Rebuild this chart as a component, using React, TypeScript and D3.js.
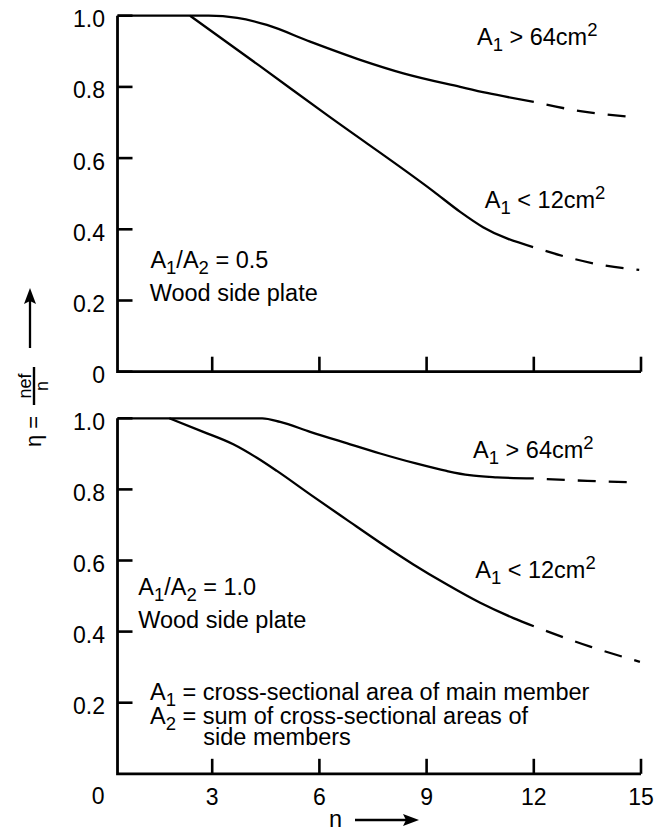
import React, { useEffect, useRef } from "react";
import * as d3 from "d3";

// Efficiency of dowel groups, eta = n_ef / n, against number of fasteners n

// Upper panel, A1/A2 = 0.5
const topLargeN = [0.35, 2.9, 3.7, 4.53, 5.74, 7.14, 8.35, 9.94, 10.69, 12];
const topLargeEta = [1.0, 1.0, 0.994, 0.974, 0.927, 0.876, 0.838, 0.8, 0.783, 0.758];
const topLargeDashN = [12, 13.3, 14.8];
const topLargeDashEta = [0.758, 0.732, 0.715];
const topSmallN = [2.38, 4.3, 6.2, 9.2, 9.94, 10.58, 11.98];
const topSmallEta = [1.0, 0.861, 0.722, 0.506, 0.449, 0.406, 0.35];
const topSmallDashN = [11.98, 13, 14, 14.95];
const topSmallDashEta = [0.35, 0.32, 0.298, 0.286];

// Lower panel, A1/A2 = 1.0
const botLargeN = [0.35, 4.4, 4.9, 5.74, 6.76, 7.7, 8.7, 9.56, 10.2, 10.97, 12];
const botLargeEta = [1.0, 1.0, 0.99, 0.962, 0.93, 0.901, 0.873, 0.852, 0.84, 0.834, 0.831];
const botLargeDashN = [12, 13.5, 14.83];
const botLargeDashEta = [0.831, 0.824, 0.82];
const botSmallN = [1.8, 2.75, 3.59, 4.25, 4.81, 5.74, 6.76, 7.7, 8.63, 9.56, 10.5, 11.43, 12];
const botSmallEta = [1.0, 0.962, 0.927, 0.889, 0.852, 0.786, 0.715, 0.65, 0.589, 0.533, 0.481, 0.438, 0.415];
const botSmallDashN = [12, 13.6, 14.97];
const botSmallDashEta = [0.415, 0.357, 0.315];

// Ticks
const xTicks = [3, 6, 9, 12, 15];
const topYTicks = [0, 0.2, 0.4, 0.6, 0.8, 1.0];
const botYTicks = [0.2, 0.4, 0.6, 0.8, 1.0];
const originLabel = "0";

// Text: [text, "" | "sub" | "sup"]
type Part = [string, string];
const largeLabel: Part[] = [["A", ""], ["1", "sub"], [" > 64cm", ""], ["2", "sup"]];
const smallLabel: Part[] = [["A", ""], ["1", "sub"], [" < 12cm", ""], ["2", "sup"]];
const ratioTop: Part[] = [["A", ""], ["1", "sub"], ["/A", ""], ["2", "sub"], [" = 0.5", ""]];
const ratioBot: Part[] = [["A", ""], ["1", "sub"], ["/A", ""], ["2", "sub"], [" = 1.0", ""]];
const plateLabel: Part[] = [["Wood side plate", ""]];
const legend1: Part[] = [["A", ""], ["1", "sub"], [" = cross-sectional area of main member", ""]];
const legend2: Part[] = [["A", ""], ["2", "sub"], [" = sum of cross-sectional areas of", ""]];
const legend3: Part[] = [["side members", ""]];

const FONT = "'Liberation Sans', Arial, Helvetica, sans-serif";
const FS = 23.5;
const W = 663,
  H = 831;

export default function App() {
  const ref = useRef<SVGSVGElement>(null);

  useEffect(() => {
    const svg = d3.select(ref.current);
    svg.selectAll("*").remove();

    const x = d3.scaleLinear().domain([0, 15]).range([105, 641]);
    const yTop = d3.scaleLinear().domain([0, 1]).range([371.7, 15.7]);
    const yBot = d3.scaleLinear().domain([0, 1]).range([773.8, 418.3]);
    const nOrigin = 0.35; // where the vertical axis sits

    const g = svg
      .append("g")
      .attr("font-family", FONT)
      .attr("font-size", FS)
      .style("white-space", "pre");

    const rich = (px: number, py: number, parts: Part[]) => {
      const t = g.append("text").attr("x", px).attr("y", py).attr("fill", "#000");
      let shift = 0;
      parts.forEach(([s, kind]) => {
        const target = kind === "sub" ? 6 : kind === "sup" ? -9 : 0;
        t.append("tspan")
          .attr("dy", target - shift)
          .attr("font-size", kind ? 18.5 : FS)
          .text(s);
        shift = target;
      });
    };

    const drawPanel = (
      y: d3.ScaleLinear<number, number>,
      yTicks: number[],
      showXLabels: boolean,
      series: { n: number[]; eta: number[]; dashed: boolean }[]
    ) => {
      // x axis ticks (inward)
      const xa = g
        .append("g")
        .attr("transform", `translate(0,${y(0)})`)
        .call(
          d3
            .axisBottom(x)
            .tickValues(xTicks)
            .tickSizeInner(-15)
            .tickSizeOuter(0)
            .tickPadding(14.5)
            .offset(0)
            .tickFormat((d) => (showXLabels ? String(d) : ""))
        );
      xa.select(".domain").remove();
      xa.attr("font-size", 23).attr("font-family", FONT);
      xa.selectAll("line").attr("stroke", "#000").attr("stroke-width", 2.6);
      xa.selectAll("text").attr("fill", "#000");

      // y axis ticks (inward)
      const ya = g
        .append("g")
        .attr("transform", `translate(${x(nOrigin)},0)`)
        .call(
          d3
            .axisLeft(y)
            .tickValues(yTicks)
            .tickSizeInner(-15)
            .tickSizeOuter(0)
            .tickPadding(12.5)
            .offset(0)
            .tickFormat((d) => (+d === 0 ? "0" : d3.format(".1f")(+d)))
        );
      ya.select(".domain").remove();
      ya.attr("font-size", 23).attr("font-family", FONT);
      ya.selectAll("line").attr("stroke", "#000").attr("stroke-width", 2.6);
      ya.selectAll("text").attr("fill", "#000").attr("dy", "0.5em");

      // axis lines
      g.append("path")
        .attr("d", `M${x(nOrigin)},${y(1)}V${y(0)}H${x(15)}`)
        .attr("fill", "none")
        .attr("stroke", "#000")
        .attr("stroke-width", 2.8);

      const line = d3
        .line<number>()
        .x((d) => x(d))
        .curve(d3.curveMonotoneX);

      series.forEach((s) => {
        line.y((_, i) => y(s.eta[i]));
        g.append("path")
          .attr("d", line(s.n))
          .attr("fill", "none")
          .attr("stroke", "#000")
          .attr("stroke-width", 2.3)
          .attr("stroke-linejoin", "round")
          .attr("stroke-dasharray", s.dashed ? "18 13" : null)
          .attr("stroke-dashoffset", s.dashed ? 18 : null);
      });
    };

    drawPanel(yTop, topYTicks, false, [
      { n: topLargeN, eta: topLargeEta, dashed: false },
      { n: topLargeDashN, eta: topLargeDashEta, dashed: true },
      { n: topSmallN, eta: topSmallEta, dashed: false },
      { n: topSmallDashN, eta: topSmallDashEta, dashed: true },
    ]);

    drawPanel(yBot, botYTicks, true, [
      { n: botLargeN, eta: botLargeEta, dashed: false },
      { n: botLargeDashN, eta: botLargeDashEta, dashed: true },
      { n: botSmallN, eta: botSmallEta, dashed: false },
      { n: botSmallDashN, eta: botSmallDashEta, dashed: true },
    ]);

    // origin label of the lower panel, in line with the n tick labels
    g.append("text")
      .attr("x", x(nOrigin) - 13)
      .attr("y", yBot(0) + 30.5)
      .attr("font-size", 23)
      .attr("text-anchor", "end")
      .text(originLabel);

    // annotations, upper panel
    rich(x(10.41), yTop(0.918), largeLabel);
    rich(x(10.63), yTop(0.46), smallLabel);
    rich(x(1.27), yTop(0.29), ratioTop);
    rich(x(1.25), yTop(0.2), plateLabel);

    // annotations, lower panel
    rich(x(10.3), yBot(0.887), largeLabel);
    rich(x(10.36), yBot(0.55), smallLabel);
    rich(x(0.93), yBot(0.503), ratioBot);
    rich(x(0.93), yBot(0.41), plateLabel);
    rich(x(1.26), yBot(0.207), legend1);
    rich(x(1.26), yBot(0.141), legend2);
    rich(x(2.75), yBot(0.08), legend3);

    // y axis title, rotated: eta = n_ef / n with an upward arrow
    const yl = g.append("g").attr("transform", "translate(41,447) rotate(-90)");
    yl.append("text").attr("x", 0).attr("y", 0).attr("font-size", 22).text("η =");
    yl.append("line")
      .attr("x1", 42)
      .attr("x2", 80)
      .attr("y1", -7)
      .attr("y2", -7)
      .attr("stroke", "#000")
      .attr("stroke-width", 2.4);
    yl.append("text")
      .attr("x", 61)
      .attr("y", -10)
      .attr("font-size", 18)
      .attr("text-anchor", "middle")
      .text("nef");
    yl.append("text")
      .attr("x", 61)
      .attr("y", 7)
      .attr("font-size", 18)
      .attr("text-anchor", "middle")
      .text("n");

    g.append("line")
      .attr("x1", 30)
      .attr("x2", 30)
      .attr("y1", 348)
      .attr("y2", 300)
      .attr("stroke", "#000")
      .attr("stroke-width", 2.3);
    g.append("path").attr("d", "M30,288L36,304L30,301L24,304Z").attr("fill", "#000");

    // x axis title: n with a rightward arrow
    g.append("text").attr("x", 329).attr("y", 827).text("n");
    g.append("line")
      .attr("x1", 355)
      .attr("x2", 408)
      .attr("y1", 820)
      .attr("y2", 820)
      .attr("stroke", "#000")
      .attr("stroke-width", 2.3);
    g.append("path").attr("d", "M419,820L403,814L406,820L403,826Z").attr("fill", "#000");
  }, []);

  return (
    <svg
      ref={ref}
      width={W}
      height={H}
      style={{ position: "absolute", left: 0, top: 0, background: "#fff" }}
    />
  );
}
